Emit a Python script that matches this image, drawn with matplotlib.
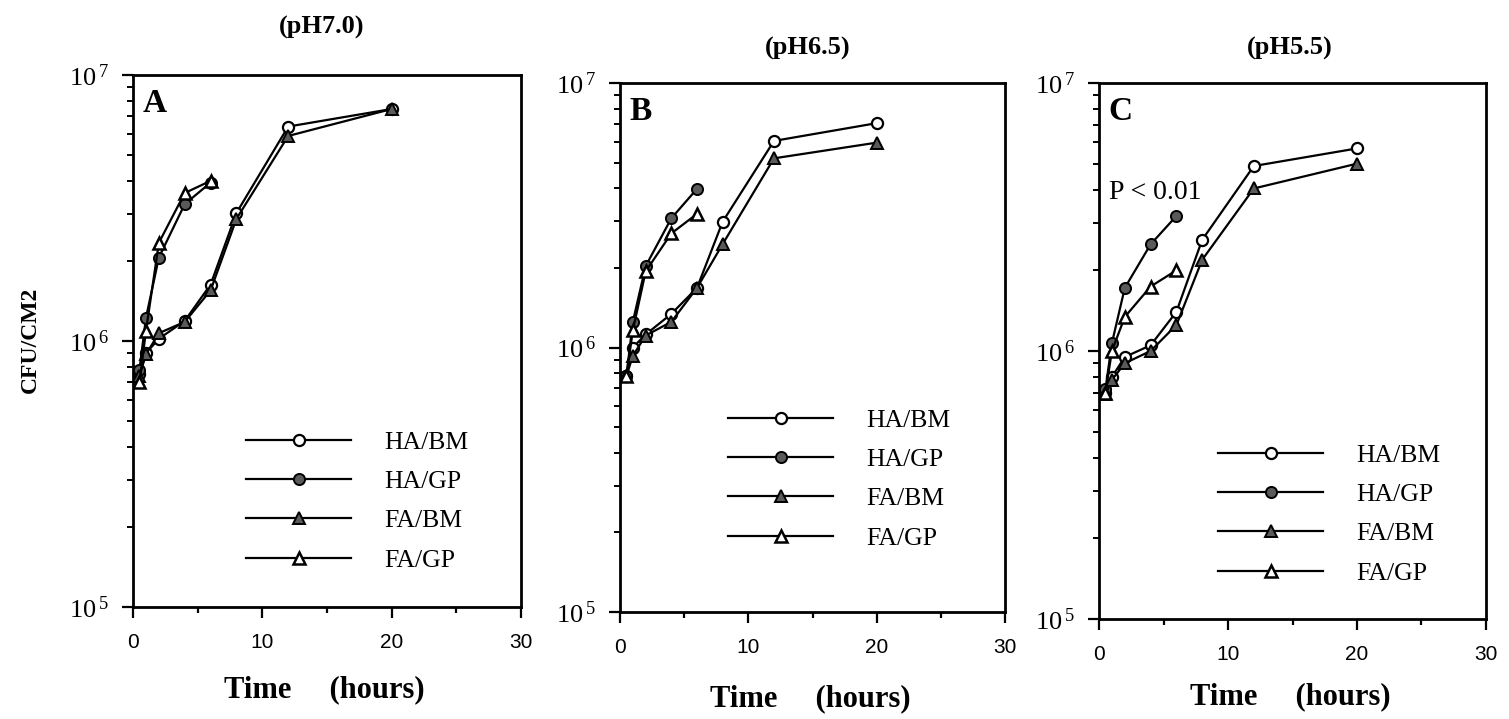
import matplotlib
matplotlib.use("Agg")
import matplotlib.pyplot as plt
from matplotlib.ticker import FixedLocator, LogLocator, NullFormatter

# ---------------- data ----------------
titles = ["(pH7.0)", "(pH6.5)", "(pH5.5)"]
panel_labels = ["A", "B", "C"]
series_names = ["HA/BM", "HA/GP", "FA/BM", "FA/GP"]

time_bm = [0.5, 1, 2, 4, 6, 8, 12, 20]
time_gp = [0.5, 1, 2, 4, 6]

# panel A (pH 7.0)
a_ha_bm = [0.75e6, 0.90e6, 1.02e6, 1.19e6, 1.63e6, 3.03e6, 6.40e6, 7.45e6]
a_ha_gp = [0.78e6, 1.22e6, 2.06e6, 3.27e6, 3.94e6]
a_fa_bm = [0.74e6, 0.89e6, 1.07e6, 1.18e6, 1.55e6, 2.88e6, 5.90e6, 7.45e6]
a_fa_gp = [0.70e6, 1.09e6, 2.34e6, 3.60e6, 4.00e6]

# panel B (pH 6.5)
b_ha_bm = [0.78e6, 1.00e6, 1.12e6, 1.34e6, 1.68e6, 2.99e6, 6.04e6, 7.05e6]
b_ha_gp = [0.78e6, 1.25e6, 2.03e6, 3.08e6, 3.98e6]
b_fa_bm = [0.78e6, 0.93e6, 1.11e6, 1.25e6, 1.68e6, 2.46e6, 5.19e6, 5.95e6]
b_fa_gp = [0.78e6, 1.16e6, 1.94e6, 2.70e6, 3.20e6]

# panel C (pH 5.5)
c_ha_bm = [0.70e6, 0.80e6, 0.95e6, 1.05e6, 1.40e6, 2.60e6, 4.90e6, 5.70e6]
c_ha_gp = [0.72e6, 1.07e6, 1.72e6, 2.50e6, 3.19e6]
c_fa_bm = [0.69e6, 0.78e6, 0.90e6, 1.00e6, 1.25e6, 2.19e6, 4.04e6, 5.00e6]
c_fa_gp = [0.70e6, 1.00e6, 1.34e6, 1.74e6, 2.00e6]

x_ticks_major = [0, 10, 20, 30]
x_ticks_minor = [5, 15, 25]
y_ticks = [1e5, 1e6, 1e7]
y_exps = [5, 6, 7]

panels = [
    (a_ha_bm, a_ha_gp, a_fa_bm, a_fa_gp),
    (b_ha_bm, b_ha_gp, b_fa_bm, b_fa_gp),
    (c_ha_bm, c_ha_gp, c_fa_bm, c_fa_gp),
]

# ---------------- layout (pixels) ----------------
W, H = 1509, 719
plt.rcParams['mathtext.fontset'] = 'custom'
plt.rcParams['mathtext.rm'] = 'Liberation Sans'
plt.rcParams['font.family'] = ['Liberation Serif', 'DejaVu Serif']

fig = plt.figure(figsize=(W / 100, H / 100), dpi=100)

def fx(x):
    return x / W

def fy(y):
    return 1 - y / H

boxes = [(133, 521, 75, 607), (620, 1005, 83, 612), (1099, 1486, 83, 619)]
title_pos = [(322, 27), (808, 48), (1290, 48)]
xlabel_pos = [(324, 690), (810, 699), (1290, 697)]
legend_anchor = [(246, 431), (728, 409), (1218, 444)]

gray = "#5a5a5a"
styles = [
    dict(marker='o', mfc='white', mec='black', ms=8, mew=1.6),
    dict(marker='o', mfc=gray, mec='black', ms=8, mew=1.4),
    dict(marker='^', mfc=gray, mec='black', ms=8.5, mew=1.4),
    dict(marker='^', mfc='white', mec='black', ms=8.5, mew=1.8),
]

for i, (l, r, t, b) in enumerate(boxes):
    ax = fig.add_axes([fx(l), fy(b), fx(r - l), (b - t) / H])
    data = panels[i]
    xs = [time_bm, time_gp, time_bm, time_gp]
    handles = []
    for k in range(4):
        ln, = ax.plot(xs[k], data[k], color='black', lw=1.6, **styles[k],
                      label=series_names[k], zorder=3 + k * 0.1)
        handles.append(ln)
    ax.set_yscale('log')
    ax.set_xlim(0, 30)
    ax.set_ylim(1e5, 1e7)

    ax.xaxis.set_major_locator(FixedLocator(x_ticks_major))
    ax.xaxis.set_minor_locator(FixedLocator(x_ticks_minor))
    ax.set_xticklabels([str(v) for v in x_ticks_major], fontfamily='Liberation Sans', fontsize=15)
    ax.yaxis.set_major_locator(FixedLocator(y_ticks))
    ax.yaxis.set_minor_locator(LogLocator(base=10, subs=range(2, 10)))
    ax.yaxis.set_minor_formatter(NullFormatter())
    ax.set_yticklabels([r'$\mathregular{10^{\,%d}}$' % e for e in y_exps], fontsize=19)

    ax.tick_params(axis='x', which='major', direction='out', length=8, width=1.6, pad=11)
    ax.tick_params(axis='x', which='minor', direction='out', length=4.5, width=1.6)
    ax.tick_params(axis='y', which='major', direction='out', length=8, width=1.6, pad=9)
    ax.tick_params(axis='y', which='minor', direction='out', length=4.5, width=1.4)
    for s in ax.spines.values():
        s.set_linewidth(2.0)

    ax.text(0.025, 0.975, panel_labels[i], transform=ax.transAxes, ha='left', va='top',
            fontsize=24, fontweight='bold')

    lax, lay = legend_anchor[i]
    ax.legend(handles=handles, loc='upper left',
              bbox_to_anchor=((lax - l) / (r - l), (b - lay) / (b - t)),
              frameon=False, handlelength=4.1, handletextpad=1.3, labelspacing=0.63,
              borderpad=0, borderaxespad=0, numpoints=1, prop=dict(size=18.5))

    tx, ty = title_pos[i]
    fig.text(fx(tx), fy(ty), titles[i], ha='center', va='center', fontsize=19, fontweight='bold')
    lx, ly = xlabel_pos[i]
    fig.text(fx(lx), fy(ly), "Time     (hours)", ha='center', va='center', fontsize=22,
             fontweight='bold')

    if i == 2:
        ax.text(0.8, 3.9e6, "P < 0.01", ha='left', va='center', fontsize=20)

fig.text(fx(30), fy(340), "CFU/CM2", rotation=90, ha='center', va='center', fontsize=17,
         fontweight='bold')

fig.savefig("out.png", dpi=100)
